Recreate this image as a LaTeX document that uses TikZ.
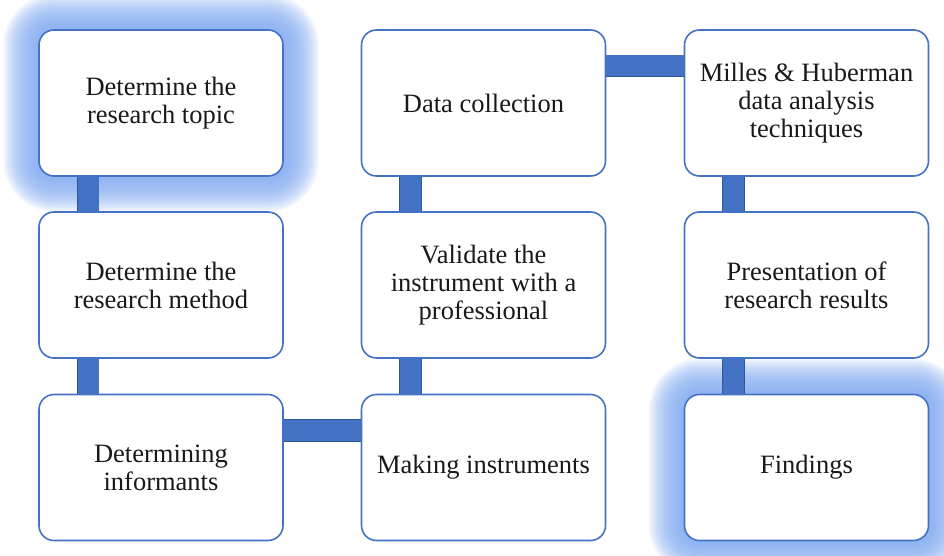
\documentclass[tikz,border=0pt]{standalone}
\usepackage{fontspec}
\setmainfont{Liberation Serif}
\pgfdeclarelayer{glow}
\pgfdeclarelayer{links}
\pgfsetlayers{glow,links,main}
\definecolor{boxblue}{HTML}{4472C4}
\definecolor{linkfill}{HTML}{4472C4}
\definecolor{linkdraw}{HTML}{2F5597}
\definecolor{glowblue}{HTML}{7FA8F0}
\tikzset{
  stepbox/.style={draw=boxblue, line width=1.6pt, fill=white, rounded corners=15pt,
    minimum width=244pt, minimum height=146pt, align=center,
    font=\fontsize{26.5}{28}\selectfont, text=black!90, inner sep=0pt, outer sep=0pt},
  link/.style={draw=linkdraw, line width=0.8pt, double=linkfill, double distance=21pt},
  glowlayer/.style={fill=glowblue, opacity=0.055}
}
\newcommand{\glowbox}[1]{%
  \foreach \rr in {36,35,...,1}{%
    \fill[glowlayer, rounded corners={15pt+\rr pt}]
      ([shift={(-\rr pt,\rr pt)}]#1.north west) rectangle ([shift={(\rr pt,-\rr pt)}]#1.south east);
  }%
}
\begin{document}
\begin{tikzpicture}[x=1pt,y=-1pt]
\useasboundingbox (0,0) rectangle (944,556);
\clip (0,0) rectangle (944,556);
\node[stepbox] (topic) at (161,103) {Determine the\\research topic};
\node[stepbox] (method) at (161,285) {Determine the\\research method};
\node[stepbox] (inform) at (161,467.5) {Determining\\informants};
\node[stepbox] (making) at (483.5,467.5) {Making instruments};
\node[stepbox] (valid) at (483.5,285) {Validate the\\instrument with a\\professional};
\node[stepbox] (data) at (483.5,103) {Data collection};
\node[stepbox] (milles) at (806.5,103) {Milles \& Huberman\\data analysis\\techniques};
\node[stepbox] (present) at (806.5,285) {Presentation of\\research results};
\node[stepbox] (find) at (806.5,467.5) {Findings};
\begin{pgfonlayer}{glow}
  \glowbox{topic}
  \glowbox{find}
\end{pgfonlayer}
\begin{pgfonlayer}{links}
  \draw[link] ([xshift=49pt]topic.south west) -- ([xshift=49pt]method.north west);
  \draw[link] ([xshift=49pt]method.south west) -- ([xshift=49pt]inform.north west);
  \draw[link] ([yshift=-36pt]inform.north east) -- ([yshift=-36pt]making.north west);
  \draw[link] ([xshift=49pt]making.north west) -- ([xshift=49pt]valid.south west);
  \draw[link] ([xshift=49pt]valid.north west) -- ([xshift=49pt]data.south west);
  \draw[link] ([yshift=-36pt]data.north east) -- ([yshift=-36pt]milles.north west);
  \draw[link] ([xshift=49pt]milles.south west) -- ([xshift=49pt]present.north west);
  \draw[link] ([xshift=49pt]present.south west) -- ([xshift=49pt]find.north west);
\end{pgfonlayer}
\end{tikzpicture}
\end{document}
